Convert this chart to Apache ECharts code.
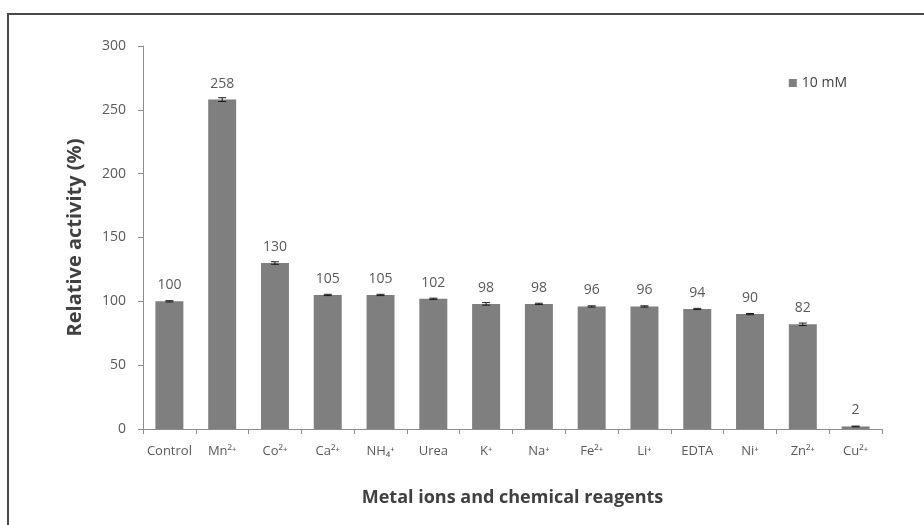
<!DOCTYPE html>
<html>
<head>
<meta charset="utf-8">
<script src="https://cdn.jsdelivr.net/npm/echarts@6/dist/echarts.min.js"></script>
<style>
  html, body { margin: 0; padding: 0; background: #fff; }
  #chart { width: 924px; height: 525px; }
</style>
</head>
<body>
<div id="chart"></div>
<script>
// Relative activity of the enzyme with 10 mM metal ions / reagents
const categories = ['Control', 'Mn²⁺', 'Co²⁺', 'Ca²⁺', 'NH₄⁺', 'Urea', 'K⁺', 'Na⁺', 'Fe²⁺', 'Li⁺', 'EDTA', 'Ni⁺', 'Zn²⁺', 'Cu²⁺'];
const activity = [100, 258, 130, 105, 105, 102, 98, 98, 96, 96, 94, 90, 82, 2];
const errors = [0.5, 1.5, 1, 0.5, 0.5, 0.5, 1, 0.5, 0.5, 0.5, 0.5, 0.5, 1, 0.3];
const yTicks = { min: 0, max: 300, interval: 50 };

const FONT = '"Open Sans", "Noto Sans", sans-serif';
const chart = echarts.init(document.getElementById('chart'), null, { renderer: 'canvas' });

chart.setOption({
  backgroundColor: '#ffffff',
  animation: false,
  graphic: [{
    type: 'rect',
    shape: { x: 8, y: 14, width: 1200, height: 1200 },
    style: { fill: 'none', stroke: '#4a4a4a', lineWidth: 2 }
  }],
  grid: { left: 143, right: 42, top: 46, bottom: 96 },
  legend: {
    data: ['10 mM'],
    right: 72,
    top: 71,
    itemWidth: 8,
    itemHeight: 8,
    icon: 'rect',
    itemGap: 4,
    textStyle: { fontFamily: FONT, fontSize: 14, color: '#404040' }
  },
  xAxis: {
    type: 'category',
    data: categories,
    name: 'Metal ions and chemical reagents',
    nameLocation: 'middle',
    nameGap: 60,
    nameTextStyle: { fontFamily: FONT, fontSize: 18, fontWeight: 'bold', color: '#404040' },
    axisLine: { lineStyle: { color: '#8c8c8c', width: 1 } },
    axisTick: { show: true, length: 5, lineStyle: { color: '#8c8c8c' } },
    axisLabel: { fontFamily: FONT, fontSize: 13, color: '#595959', margin: 16, interval: 0 }
  },
  yAxis: {
    type: 'value',
    min: yTicks.min,
    max: yTicks.max,
    interval: yTicks.interval,
    name: 'Relative activity (%)',
    nameLocation: 'middle',
    nameGap: 58,
    nameTextStyle: { fontFamily: FONT, fontSize: 20, fontWeight: 'bold', color: '#404040' },
    axisLine: { show: true, lineStyle: { color: '#8c8c8c', width: 1 } },
    axisTick: { show: true, length: 5, lineStyle: { color: '#8c8c8c' } },
    splitLine: { show: false },
    axisLabel: { fontFamily: FONT, fontSize: 14, color: '#595959', margin: 17 }
  },
  series: [
    {
      name: '10 mM',
      type: 'bar',
      data: activity,
      barWidth: '53%',
      itemStyle: { color: '#7f7f7f' },
      label: {
        show: true,
        position: 'top',
        distance: 9,
        fontFamily: FONT,
        fontSize: 14,
        color: '#595959'
      },
      z: 2
    },
    {
      name: 'error',
      type: 'custom',
      data: activity.map((v, i) => [i, v - errors[i], v + errors[i]]),
      renderItem: function (params, api) {
        const lo = api.coord([api.value(0), api.value(1)]);
        const hi = api.coord([api.value(0), api.value(2)]);
        const half = 4;
        const style = { stroke: '#1a1a1a', lineWidth: 1 };
        return {
          type: 'group',
          children: [
            { type: 'line', shape: { x1: hi[0], y1: hi[1], x2: lo[0], y2: lo[1] }, style },
            { type: 'line', shape: { x1: hi[0] - half, y1: hi[1], x2: hi[0] + half, y2: hi[1] }, style },
            { type: 'line', shape: { x1: lo[0] - half, y1: lo[1], x2: lo[0] + half, y2: lo[1] }, style }
          ]
        };
      },
      z: 3,
      tooltip: { show: false }
    }
  ]
});
</script>
</body>
</html>
